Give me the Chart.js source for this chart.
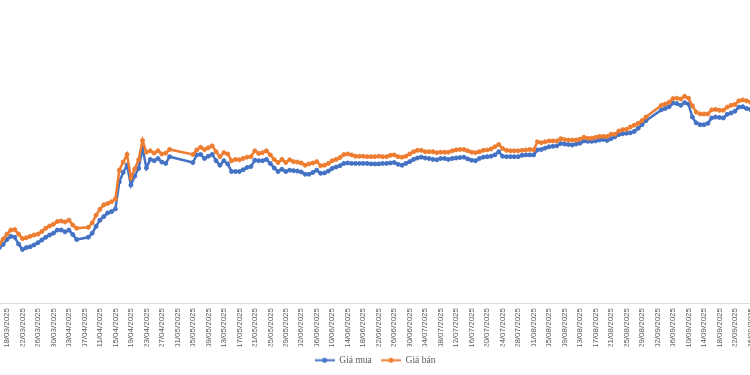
<!DOCTYPE html>
<html>
<head>
<meta charset="utf-8">
<script src="https://cdn.jsdelivr.net/npm/chart.js@4.4.1/dist/chart.umd.min.js"></script>
<style>
  html, body { margin: 0; padding: 0; background: #fff; }
  #wrap { width: 750px; height: 375px; }
</style>
</head>
<body>
<div id="wrap"><canvas id="chart"></canvas></div>
<script>
// one entry per calendar day, 15/03/2025 .. 27/09/2025 (null = no quote that day)
const firstDay = new Date(2025, 2, 15);
const dayCount = 197;
const dayLabels = [];
for (let k = 0; k < dayCount; k++) {
    const d = new Date(firstDay.getFullYear(), firstDay.getMonth(), firstDay.getDate() + k);
    dayLabels.push(String(d.getDate()).padStart(2, '0') + '/' + String(d.getMonth() + 1).padStart(2, '0') + '/' + d.getFullYear());
}

// tick labels every 4 days starting 18/03/2025
const tickStart = 3;
const tickStep = 4;

const seriesNames = ['Giá mua', 'Giá bán'];

const buyPrice = [
    95.8, 96.1, 96.8, 97.9, 98.6, 98.4, 96.9, 95.7, 96.1, 96.3,
    96.7, 97.2, 97.8, 98.4, 98.9, 99.3, 100.0, 100.0, 99.6, 100.0,
    99.0, 97.9, null, null, 98.4, 99.3, 100.8, 102.2, 103.0, 103.8,
    104.1, 104.7, 110.7, 112.8, 114.4, 110.0, 112.0, 113.7, 118.2, 113.8,
    115.7, 115.4, 115.9, 115.1, 114.8, 116.3, null, null, null, null,
    null, 115.0, 116.7, 116.8, 115.9, 116.4, 116.8, 115.4, 114.4, 115.4,
    114.7, 113.0, 113.0, 113.0, 113.4, 113.9, 114.1, 115.5, 115.4, 115.4,
    115.7, 114.8, 113.8, 113.0, 113.5, 113.0, 113.3, 113.2, 113.1, 112.9,
    112.4, 112.4, 112.8, 113.3, 112.6, 112.7, 113.1, 113.7, 114.0, 114.3,
    114.8, 114.9, 114.8, 114.8, 114.8, 114.8, 114.8, 114.7, 114.7, 114.7,
    114.8, 114.8, 114.9, 115.0, 114.6, 114.4, 114.8, 115.2, 115.7, 116.0,
    116.2, 116.0, 115.9, 115.7, 115.6, 115.9, 115.9, 115.7, 115.9, 116.0,
    116.1, 116.2, 115.8, 115.5, 115.4, 115.9, 116.2, 116.3, 116.4, 116.7,
    117.4, 116.4, 116.3, 116.3, 116.3, 116.3, 116.6, 116.7, 116.7, 116.7,
    117.8, 117.9, 118.2, 118.5, 118.6, 118.7, 119.2, 119.1, 119.0, 118.9,
    119.1, 119.3, 119.8, 119.7, 119.7, 119.8, 120.0, 120.1, 119.9, 120.3,
    120.7, 121.2, 121.4, 121.5, 121.6, 121.9, 122.6, 123.4, 124.3, null,
    null, null, 126.7, 127.0, 127.4, 128.2, 128.1, 127.7, 128.3, 128.0,
    125.1, 123.8, 123.4, 123.4, 123.7, 124.9, 125.1, 125.0, 124.9, 125.7,
    126.0, 126.4, 127.3, 127.4, 127.0, 126.8, 126.7
];

const sellPrice = [
    96.4, 96.9, 98.0, 99.1, 100.0, 100.1, 99.1, 98.1, 98.3, 98.6,
    98.9, 99.1, 99.7, 100.4, 100.9, 101.3, 101.9, 102.0, 101.8, 102.2,
    101.1, 100.4, null, null, 100.6, 101.6, 103.3, 104.6, 105.6, 105.9,
    106.3, 106.9, 113.3, 115.1, 116.8, 111.6, 113.6, 115.6, 119.9, 117.3,
    117.6, 117.1, 117.6, 116.9, 117.1, 117.9, null, null, null, null,
    null, 116.8, 117.8, 118.4, 117.9, 118.3, 118.7, 117.4, 116.3, 117.2,
    116.9, 115.4, 115.7, 115.6, 115.9, 116.2, 116.3, 117.6, 117.0, 117.2,
    117.6, 116.7, 115.7, 115.0, 115.7, 115.0, 115.6, 115.2, 115.1, 114.9,
    114.4, 114.7, 114.9, 115.2, 114.3, 114.4, 114.8, 115.4, 115.7, 116.1,
    116.8, 116.9, 116.7, 116.4, 116.4, 116.4, 116.3, 116.3, 116.3, 116.4,
    116.3, 116.3, 116.6, 116.7, 116.3, 116.2, 116.4, 116.9, 117.4, 117.7,
    117.7, 117.4, 117.4, 117.4, 117.2, 117.3, 117.3, 117.3, 117.6, 117.8,
    117.9, 117.9, 117.6, 117.3, 117.2, 117.4, 117.7, 117.8, 118.0, 118.5,
    119.0, 118.1, 117.7, 117.6, 117.6, 117.6, 117.7, 117.8, 117.9, 117.8,
    119.6, 119.4, 119.6, 119.8, 119.8, 119.8, 120.3, 120.1, 120.0, 120.0,
    120.0, 120.2, 120.6, 120.4, 120.4, 120.6, 120.8, 120.8, 120.8, 121.3,
    121.3, 122.0, 122.3, 122.4, 122.9, 123.3, 123.7, 124.3, 125.1, null,
    null, null, 127.7, 128.0, 128.4, 129.2, 129.3, 129.1, 129.7, 129.3,
    127.6, 126.2, 125.8, 125.8, 125.8, 126.7, 126.8, 126.6, 126.6, 127.3,
    127.7, 127.9, 128.7, 128.9, 128.7, 128.4, 128.3
];

const blue = '#4472C4';
const orange = '#ED7D31';

function toPoints(values) {
    return values.map((v, k) => ({ x: k, y: v }));
}

// little "line with a dot" swatch for the legend
function legendMark(color) {
    const c = document.createElement('canvas');
    c.width = 20;
    c.height = 7;
    const g = c.getContext('2d');
    g.strokeStyle = color;
    g.lineWidth = 2;
    g.beginPath();
    g.moveTo(0, 3.5);
    g.lineTo(20, 3.5);
    g.stroke();
    g.fillStyle = color;
    g.beginPath();
    g.arc(10, 3.5, 2.5, 0, Math.PI * 2);
    g.fill();
    return c;
}
const marks = [legendMark(blue), legendMark(orange)];

new Chart(document.getElementById('chart'), {
    type: 'line',
    data: {
        datasets: [
            {
                label: seriesNames[0],
                data: toPoints(buyPrice),
                borderColor: blue,
                backgroundColor: blue,
                pointBackgroundColor: blue,
                borderWidth: 2.5,
                pointRadius: 2,
                pointBorderWidth: 1,
                spanGaps: true,
                order: 1
            },
            {
                label: seriesNames[1],
                data: toPoints(sellPrice),
                borderColor: orange,
                backgroundColor: orange,
                pointBackgroundColor: orange,
                borderWidth: 2.5,
                pointRadius: 2,
                pointBorderWidth: 1,
                spanGaps: true,
                order: 0
            }
        ]
    },
    options: {
        responsive: true,
        maintainAspectRatio: false,
        animation: false,
        layout: { padding: 0, autoPadding: false },
        scales: {
            x: {
                type: 'linear',
                min: 1.192,
                max: 194.89,
                grid: { display: false, drawTicks: false },
                border: { display: true, color: '#d9d9d9', width: 1 },
                afterBuildTicks: (scale) => {
                    const ticks = [];
                    for (let k = tickStart; k < dayCount; k += tickStep) ticks.push({ value: k });
                    scale.ticks = ticks;
                },
                afterFit: (scale) => {
                    scale.paddingLeft = 0;
                    scale.paddingRight = 0;
                    scale.height = 43.5;
                },
                ticks: {
                    autoSkip: false,
                    minRotation: 90,
                    maxRotation: 90,
                    padding: 5,
                    color: '#595959',
                    font: { family: "'Liberation Sans', Arial, sans-serif", size: 8 },
                    callback: (value) => dayLabels[value]
                }
            },
            y: {
                display: false,
                min: 83.8,
                max: 151.1
            }
        },
        plugins: {
            tooltip: { enabled: false },
            legend: {
                position: 'bottom',
                labels: {
                    usePointStyle: true,
                    pointStyleWidth: 20,
                    padding: 9,
                    color: '#595959',
                    font: { family: "'Liberation Serif', 'Times New Roman', serif", size: 9.5 },
                    generateLabels: (chart) => Chart.defaults.plugins.legend.labels.generateLabels(chart)
                        .sort((a, b) => a.datasetIndex - b.datasetIndex)
                        .map((item) => Object.assign(item, { pointStyle: marks[item.datasetIndex] }))
                }
            }
        }
    }
});
</script>
</body>
</html>
